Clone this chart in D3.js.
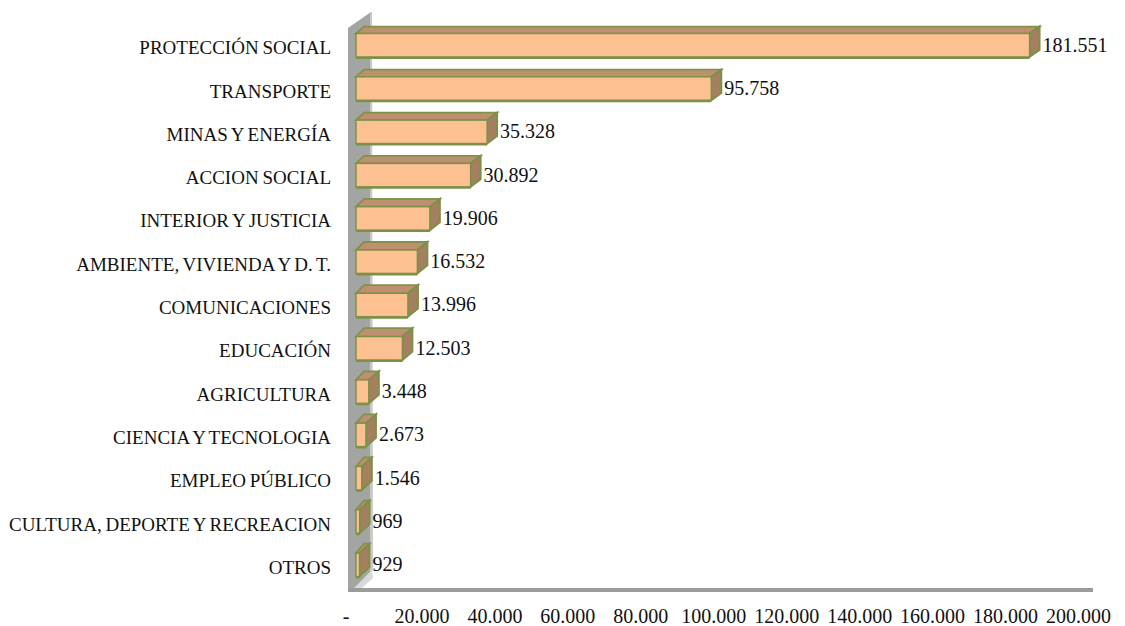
<!DOCTYPE html>
<html><head><meta charset="utf-8">
<script src="https://cdn.jsdelivr.net/npm/d3@7/dist/d3.min.js"></script>
<style>html,body{margin:0;background:#fff}svg{display:block}text{font-family:"Liberation Serif",serif;fill:#111}</style>
</head><body><svg id="c" width="1125" height="626"></svg>
<script>
const categories=["PROTECCIÓN SOCIAL","TRANSPORTE","MINAS Y ENERGÍA","ACCION SOCIAL","INTERIOR Y JUSTICIA","AMBIENTE, VIVIENDA Y D. T.","COMUNICACIONES","EDUCACIÓN","AGRICULTURA","CIENCIA Y TECNOLOGIA","EMPLEO PÚBLICO","CULTURA, DEPORTE Y RECREACION","OTROS"];
const values=[181551,95758,35328,30892,19906,16532,13996,12503,3448,2673,1546,969,929];
const tickValues=[0,20000,40000,60000,80000,100000,120000,140000,160000,180000,200000];

const svg=d3.select("#c");
const x=d3.scaleLinear().domain([0,200000]).range([356,1098]);
const xTicks=d3.scaleLinear().domain([0,200000]).range([348.5,1078]);
const y=d3.scaleBand().domain(categories).range([24,586]).paddingInner(0.46).paddingOuter(0.22);
const dx=10;
const dyOf=i=>7+i*0.2;
const loc=d3.formatLocale({decimal:",",thousands:".",grouping:[3],currency:["",""]});
const fmt=loc.format(",d");

// wall and floor
const wallL=x(0)-8, wallR=x(0)+16, wallTop=y.range()[0]+4, wallBot=y.range()[1]+6;
svg.append("path").attr("d",`M${wallL},${wallTop}L${wallR-1},${wallTop-16}L${wallR},${wallBot-22}L${wallL+8},${wallBot-4}L${wallL},${wallBot-4}Z`).attr("fill","#a3a5a3");
svg.append("path").attr("d",`M${wallR-2},${wallTop-16}L${wallR},${wallTop-16}L${wallR+1},${wallBot-22}L${wallR-2},${wallBot-20}Z`).attr("fill","#c8cac8");
svg.append("path").attr("d",`M${wallL+6},${wallBot-4}L${wallR},${wallBot-22}L${wallR+1},${wallBot-14}L${wallL+14},${wallBot-4}Z`).attr("fill","#d8d9d8");
svg.append("rect").attr("x",wallL).attr("y",wallBot-4).attr("width",745).attr("height",4).attr("fill","#9a9c9a");

// bars
const g=svg.append("g").selectAll("g").data(values).join("g");
const bh=y.bandwidth();
const yOf=(d,i)=>y(categories[i]);
g.append("path").attr("d",(d,i)=>{const a=x(0),b=x(d),t=yOf(d,i),dy=dyOf(i);return `M${a},${t}L${a+dx-2},${t-dy}L${b+dx},${t-dy}L${b},${t}Z`;})
 .attr("fill","#be9070").attr("stroke","#80914a").attr("stroke-width",1.8);
g.append("path").attr("d",(d,i)=>{const b=x(d),t=yOf(d,i),dy=dyOf(i);return `M${b},${t}L${b+dx},${t-dy}L${b+dx},${t+bh-dy}L${b},${t+bh}Z`;})
 .attr("fill","#a57f5f").attr("stroke","#7b9148").attr("stroke-width",2);
g.append("rect").attr("x",x(0)).attr("y",(d,i)=>yOf(d,i)).attr("width",d=>x(d)-x(0)).attr("height",bh)
 .attr("fill","#fdc191").attr("stroke","#7b9148").attr("stroke-width",1.4);
g.append("line").attr("x1",x(0)).attr("x2",d=>x(d)).attr("y1",(d,i)=>yOf(d,i)+bh+1).attr("y2",(d,i)=>yOf(d,i)+bh+1)
 .attr("stroke","#7b9148").attr("stroke-width",2);

// value labels
g.append("text").attr("x",d=>x(d)+13).attr("y",(d,i)=>yOf(d,i)+bh/2).attr("dy","0.32em")
 .attr("font-size",20).text(d=>fmt(d));

// category axis
const yAxis=d3.axisLeft(y).tickSize(0).tickPadding(25);
const ga=svg.append("g").attr("transform",`translate(${x(0)},3)`).call(yAxis);
ga.select(".domain").remove();
ga.selectAll("text").attr("font-size",19).style("word-spacing","-1px").style("font-family",'"Liberation Serif",serif').style("fill","#111");

// value axis
const xAxis=d3.axisBottom(xTicks).tickValues(tickValues).tickSize(0).tickPadding(0).tickFormat(d=>d===0?"-":fmt(d));
const gx=svg.append("g").attr("transform","translate(0,617)").call(xAxis);
gx.select(".domain").remove();
gx.selectAll("text").attr("font-size",20).attr("dy","0.32em").style("font-family",'"Liberation Serif",serif').style("fill","#111");
gx.selectAll("text").filter(d=>d===0).attr("dx",-3);
</script></body></html>
